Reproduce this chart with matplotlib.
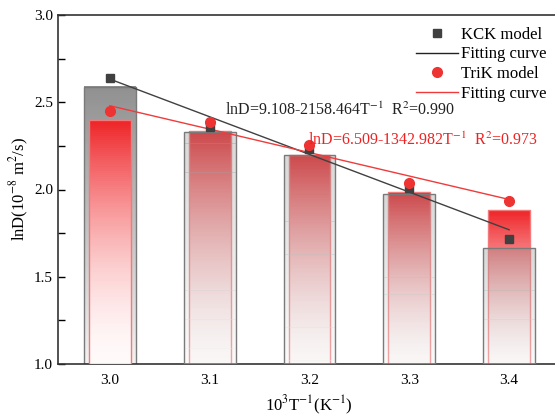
import matplotlib.pyplot as plt
import matplotlib.patches as mpatches
from matplotlib.lines import Line2D
from matplotlib.colors import to_rgb
import numpy as np

plt.rcParams['font.family'] = ['Liberation Serif', 'DejaVu Serif']
plt.rcParams['mathtext.fontset'] = 'stix'

# 10^3/T values
x_vals = [3.0, 3.1, 3.2, 3.3, 3.4]
# bar heights
kck_bars = [2.59, 2.33, 2.195, 1.975, 1.665]
trik_bars = [2.40, 2.335, 2.20, 1.985, 1.885]
# scatter points
kck_pts = [2.64, 2.36, 2.23, 2.01, 1.715]
trik_pts = [2.45, 2.387, 2.255, 2.037, 1.935]
# fitting coefficients lnD = a - b*T^-1
kck_fit = [9.108, 2158.464]
trik_fit = [6.509, 1342.982]

fig = plt.figure(figsize=(5.55, 4.16), dpi=100)
ax = fig.add_axes([58/555, 1-364/416, 501/555, 349/416])
ymin = 1.0
nstrip = 120


# bar drawn as a stack of thin strips, colour going from top to bottom
def grad_bar(x, h, w, top, bottom, edge, z, alpha=1.0, power=1.0):
    t = ((np.arange(nstrip) + 0.5) / nstrip) ** power
    top = np.array(to_rgb(top))
    bottom = np.array(to_rgb(bottom))
    cols = bottom + (top - bottom) * t[:, None]
    dh = (h - ymin) / nstrip
    ax.bar(np.full(nstrip, x), np.full(nstrip, dh * 1.02), bottom=ymin + np.arange(nstrip) * dh,
           width=w, color=cols, linewidth=0, antialiased=False, alpha=alpha, zorder=z)
    ax.add_patch(mpatches.Rectangle((x - w/2, ymin), w, h - ymin, facecolor='none',
                                    edgecolor=edge, lw=1.0, zorder=z + 0.1))


red = dict(w=0.042, top='#ee2226', bottom='#fffafa', edge='#f27a7a', power=1.7)
gray = dict(w=0.052, top='#909090', bottom='#f2f2f2', edge='#7a7a7a', power=1.0)

for i, x in enumerate(x_vals):
    g, r = kck_bars[i], trik_bars[i]
    if g < r:
        grad_bar(x, r, z=2, **red)
        grad_bar(x, g, z=3, alpha=0.35, **gray)
    else:
        grad_bar(x, g, z=2, **gray)
        grad_bar(x, r, z=3, **red)

xf = np.array([x_vals[0], x_vals[-1]])
ax.plot(xf, kck_fit[0] - kck_fit[1]*xf/1000, color='#404040', lw=1.0, zorder=5)
ax.plot(xf, trik_fit[0] - trik_fit[1]*xf/1000, color='#ef3b3b', lw=1.0, zorder=5)
ax.plot(x_vals, kck_pts, 's', color='#404040', ms=6, zorder=6, ls='none')
ax.plot(x_vals, trik_pts, 'o', color='#ee3333', ms=7, zorder=7, ls='none')

ax.text(3.231, 2.456, r'lnD=9.108-2158.464T$^{-1}$  R$^{2}$=0.990', fontsize=11.5,
        color='#222222', ha='center', va='center', zorder=8)
ax.text(3.314, 2.284, r'lnD=6.509-1342.982T$^{-1}$  R$^{2}$=0.973', fontsize=11.5,
        color='#ee2222', ha='center', va='center', zorder=8)

handles = [
    Line2D([], [], marker='s', color='#404040', ls='none', ms=6),
    Line2D([], [], color='#222222', lw=1.0),
    Line2D([], [], marker='o', color='#ee3333', ls='none', ms=7),
    Line2D([], [], color='#ef3b3b', lw=1.0),
]
labels = ['KCK model', 'Fitting curve', 'TriK model', 'Fitting curve']
ax.legend(handles, labels, loc='upper right', bbox_to_anchor=(0.995, 0.995), frameon=False,
          fontsize=12, handlelength=2.5, handletextpad=0.2, labelspacing=0.22,
          borderaxespad=0.2)

ax.set_xlim(2.948, 3.45)
ax.set_ylim(1.0, 3.0)
ax.set_xticks(x_vals)
ax.set_xticklabels(['3.0', '3.1', '3.2', '3.3', '3.4'])
ax.set_yticks([1.0, 1.5, 2.0, 2.5, 3.0])
ax.set_yticks([1.25, 1.75, 2.25, 2.75], minor=True)
ax.tick_params(axis='y', which='both', direction='in', length=5, width=1, labelsize=11)
ax.tick_params(axis='x', length=0, labelsize=11, pad=7)
for s in ax.spines.values():
    s.set_linewidth(1.2)
    s.set_color('#333333')

ax.set_ylabel(r'lnD(10$^{-8}$ m$^{2}$/s)', fontsize=12, labelpad=2)
ax.set_xlabel(r'10$^{3}$T$^{-1}$(K$^{-1}$)', fontsize=12, labelpad=5)

fig.savefig('out.png', dpi=100)
